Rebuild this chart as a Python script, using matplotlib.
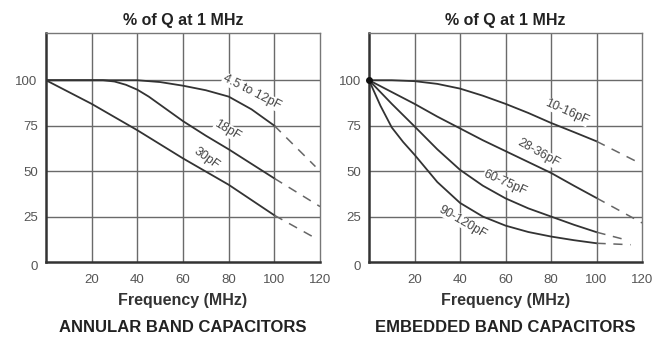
import matplotlib
matplotlib.use("Agg")
import matplotlib.pyplot as plt
from matplotlib.transforms import ScaledTranslation

plt.rcParams['font.family'] = ['Liberation Sans', 'DejaVu Sans']

# ---------------- data ----------------
x_ticks = [20, 40, 60, 80, 100, 120]
y_ticks = [0, 25, 50, 75, 100]

# Annular band capacitors (solid part, then dashed extrapolation)
ann_names = ["4.5 to 12pF", "18pF", "30pF"]
ann_x = [[0, 20, 40, 50, 60, 70, 80, 90, 100],
         [0, 20, 25, 30, 35, 40, 45, 50, 60, 70, 80, 90, 100],
         [0, 20, 40, 60, 80, 100]]
ann_y = [[100, 100, 100, 99, 97, 94.5, 91, 84, 75],
         [100, 100, 100, 99.3, 97.5, 94.8, 91, 86.5, 77.5, 69.5, 62, 54, 46],
         [100, 87, 72.5, 57, 42.5, 25.7]]
ann_dx = [[100, 118], [100, 120], [100, 119]]
ann_dy = [[75, 52.5], [46, 30.5], [25.7, 12.4]]

# Embedded band capacitors
emb_names = ["10-16pF", "28-36pF", "60-75pF", "90-120pF"]
emb_x = [[0, 10, 20, 30, 40, 50, 60, 70, 80, 90, 100],
         [0, 10, 20, 30, 40, 50, 60, 70, 80, 90, 100],
         [0, 10, 20, 30, 40, 50, 60, 70, 80, 90, 100],
         [0, 5, 10, 15, 20, 30, 40, 50, 60, 70, 80, 90, 100]]
emb_y = [[100, 100, 99.5, 98, 95.4, 91.5, 87, 82, 76.5, 71.5, 66.4],
         [100, 93.5, 87, 80, 73.5, 67, 61, 55, 49, 42, 35.2],
         [100, 87, 74.6, 62, 50.7, 42, 35, 29.5, 25, 20.5, 16.4],
         [100, 86, 74, 66, 59, 44, 32.5, 25, 20, 16.5, 14, 12, 10.3]]
emb_dx = [[100, 118], [100, 120], [100, 111], [100, 115]]
emb_dy = [[66.4, 55], [35.2, 21.5], [16.4, 12.8], [10.3, 9.5]]

# label anchor (data coords) and rotation
ann_lab = [(90, 93.5, -27), (79.5, 72.5, -31), (70.5, 57, -36)]
emb_lab = [(87, 82.5, -24), (74.3, 60, -29), (59.8, 43.4, -24), (41.3, 22, -30)]

titles = ["ANNULAR BAND CAPACITORS", "EMBEDDED BAND CAPACITORS"]

# ---------------- figure ----------------
fig = plt.figure(figsize=(6.59, 3.37), dpi=100)
axL = fig.add_axes([0.0698, 0.2226, 0.4158, 0.6795])
axR = fig.add_axes([0.560, 0.2226, 0.4143, 0.6795])

lc = '#333333'
gc = '#6a6a6a'

def setup(ax, caption):
    ax.set_xlim(0, 120)
    ax.set_ylim(0, 126)
    ax.set_xticks(x_ticks)
    ax.set_yticks(y_ticks)
    ax.tick_params(length=0, labelsize=9.5, labelcolor='#555555')
    ax.tick_params(axis='x', pad=9)
    ax.tick_params(axis='y', pad=6)
    for v in x_ticks[:-1]:
        ax.axvline(v, color=gc, lw=1.0, zorder=1)
    for v in y_ticks[1:]:
        ax.axhline(v, color=gc, lw=1.0, zorder=1)
    for s in ['left', 'bottom']:
        ax.spines[s].set_linewidth(1.8)
        ax.spines[s].set_color('#333333')
    for s in ['top', 'right']:
        ax.spines[s].set_linewidth(1.0)
        ax.spines[s].set_color('#777777')
    ax.set_title("% of Q at 1 MHz", fontsize=11.5, fontweight='bold', color='#222222', pad=6)
    ax.set_xlabel("Frequency (MHz)", fontsize=11.5, fontweight='bold', color='#333333', labelpad=5)
    ax.text(0.5, -0.285, caption, transform=ax.transAxes, ha='center', va='center',
            fontsize=12, fontweight='bold', color='#222222')
    # "0" y label sits a bit lower in the reference
    labs = ax.get_yticklabels()
    labs[0].set_transform(labs[0].get_transform() + ScaledTranslation(0, -4 / 100, fig.dpi_scale_trans))

def draw(ax, xs, ys, dxs, dys, names, labs, dot=False):
    for x, y, dx, dy, n, (lx, ly, rot) in zip(xs, ys, dxs, dys, names, labs):
        ax.plot(x, y, color=lc, lw=1.3, zorder=3, solid_joinstyle='round')
        ax.plot(dx, dy, color='#666666', lw=1.1, ls=(0, (6, 5)), zorder=3)
        ax.text(lx, ly, n, rotation=rot, rotation_mode='anchor', ha='center', va='center',
                fontsize=9, color='#444444', zorder=4,
                bbox=dict(facecolor='white', edgecolor='none', pad=0.2))
    if dot:
        ax.plot([xs[0][0]], [ys[0][0]], 'o', color='#111111', ms=4, zorder=5, clip_on=False)

setup(axL, titles[0])
setup(axR, titles[1])
draw(axL, ann_x, ann_y, ann_dx, ann_dy, ann_names, ann_lab)
draw(axR, emb_x, emb_y, emb_dx, emb_dy, emb_names, emb_lab, dot=True)

fig.savefig("out.png", dpi=100, facecolor='white')
